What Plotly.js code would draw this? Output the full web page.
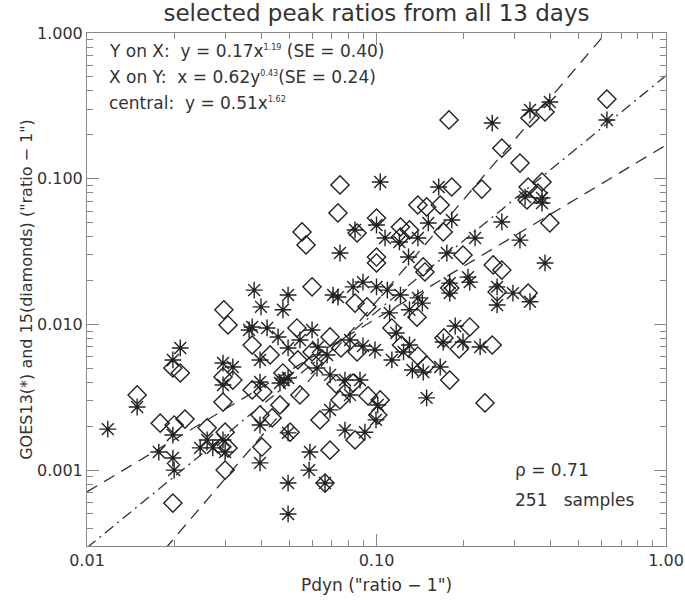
<!DOCTYPE html>
<html>
<head>
<meta charset="utf-8">
<script src="https://cdn.plot.ly/plotly-3.0.1.min.js"></script>
<style>html,body{margin:0;padding:0;background:#fff;}#chart{width:685px;height:600px;}</style>
</head>
<body>
<div id="chart"></div>
<script>
// GOES13 (asterisks): Pdyn ratio-1 vs GOES ratio-1
const goes13X = [0.0118,0.0149,0.0198,0.0210,0.0198,0.0177,0.0198,0.0200,0.0260,0.0246,0.0272,0.0300,0.0295,0.0396,0.0495,0.0495,0.0585,0.0664,0.0589,
  0.0378,0.0495,0.0399,0.0475,0.0363,0.0372,0.0419,0.0457,0.0495,0.0396,0.0295,0.0319,0.0295,0.0495,0.0464,0.0479,0.0396,0.0396,0.0495,
  0.103,0.164,0.100,0.151,0.182,0.0843,0.107,0.120,0.139,0.219,0.0748,0.129,0.175,0.0708,0.0736,0.0898,0.0830,0.100,0.109,0.121,0.111,0.130,0.139,0.144,0.179,0.210,0.179,0.170,0.199,0.261,
  0.625,0.397,0.339,0.251,0.271,0.326,0.373,0.373,0.313,0.382,0.207,
  0.0628,0.0675,0.0810,0.0898,0.0988,0.0623,0.0691,0.0778,0.0877,0.101,0.0996,0.0912,0.0778,0.113,0.124,0.133,0.145,0.130,0.117,0.149,0.166,0.296,0.339,0.261,0.0810,0.0691,0.0599,0.0544,0.228,0.187];
const goes13Y = [0.00191,0.00271,0.00570,0.00689,0.00174,0.00133,0.00121,0.00100,0.00161,0.00142,0.00142,0.00133,0.00161,0.00112,0.000815,0.000500,0.00100,0.000815,0.00133,
  0.0172,0.0159,0.0132,0.0126,0.00916,0.00960,0.00945,0.00820,0.00689,0.00570,0.00543,0.00510,0.00384,0.00429,0.00396,0.00415,0.00402,0.00204,0.00180,
  0.0949,0.0877,0.0481,0.0497,0.0521,0.0445,0.0392,0.0368,0.0392,0.0392,0.0309,0.0290,0.0309,0.0159,0.0154,0.0195,0.0181,0.0181,0.0172,0.0159,0.0120,0.0126,0.0152,0.0140,0.0192,0.0195,0.0164,0.00757,0.00757,0.0181,
  0.253,0.336,0.296,0.241,0.0505,0.0748,0.0737,0.0681,0.0379,0.0264,0.0211,
  0.00700,0.00617,0.00782,0.00711,0.00667,0.00502,0.00450,0.00415,0.00415,0.00280,0.00221,0.00182,0.00188,0.00570,0.00647,0.00486,0.00471,0.00722,0.00873,0.00313,0.00510,0.0164,0.0143,0.0136,0.00328,0.00259,0.00916,0.00782,0.00700,0.00975];

// GOES15 (diamonds)
const goes15X = [0.0149,0.0198,0.0210,0.0179,0.0200,0.0218,0.0198,0.0297,0.0307,0.0372,0.0531,0.0429,0.0295,0.0319,0.0295,0.0475,0.0372,0.0405,0.0464,0.0396,0.0436,0.0503,0.0402,0.0260,0.0300,0.0292,0.0307,0.0300,0.0664,0.0691,
  0.0748,0.182,0.231,0.0736,0.100,0.121,0.139,0.149,0.166,0.170,0.130,0.0857,0.0553,0.0571,0.121,0.253,0.100,0.100,0.145,0.147,0.199,0.0599,0.0927,0.0843,0.138,0.179,0.210,0.261,
  0.625,0.339,0.382,0.271,0.313,0.373,0.334,0.331,0.361,0.397,0.271,0.178,
  0.0691,0.0754,0.0857,0.0599,0.0604,0.0535,0.0725,0.0830,0.0935,0.103,0.101,0.0843,0.113,0.122,0.139,0.149,0.171,0.179,0.251,0.193,0.334,0.0748,0.0544,0.0638,0.237];
const goes15Y = [0.00328,0.00502,0.00464,0.00210,0.00204,0.00224,0.000594,0.0126,0.00991,0.00722,0.00945,0.00617,0.00436,0.00415,0.00293,0.00464,0.00355,0.00344,0.00280,0.00239,0.00228,0.00182,0.00144,0.00195,0.00182,0.00144,0.00142,0.00100,0.000815,0.00137,
  0.0906,0.0877,0.0849,0.0582,0.0537,0.0466,0.0660,0.0640,0.0660,0.0431,0.0445,0.0424,0.0431,0.0351,0.0398,0.0256,0.0290,0.0264,0.0248,0.0229,0.0299,0.0181,0.0132,0.0140,0.0112,0.0178,0.00960,0.0167,
  0.352,0.261,0.287,0.162,0.128,0.0949,0.0877,0.0714,0.0797,0.0497,0.0236,0.253,
  0.00820,0.00689,0.00647,0.00647,0.00543,0.00570,0.00390,0.00396,0.00323,0.00303,0.00239,0.00161,0.00945,0.00722,0.00607,0.00526,0.00807,0.00415,0.00722,0.00678,0.0164,0.00303,0.00328,0.00221,0.00289];

// Fit lines (coefficients as printed on the chart)
const fitNames = ['Y on X', 'X on Y', 'central'];
const fitCoef = [0.17, 0.62, 0.51];
const fitExp = [1.19, 0.43, 1.62];
const fitInverse = [false, true, false];
const fitDash = ['12px,8px', '12px,8px', '11px,5px,2px,5px'];
const lineX = [0.01, 1.0];

const xTickVals = [0.01, 0.1, 1];
const xTickText = ['0.01', '0.10', '1.00'];
const yTickVals = [0.001, 0.01, 0.1, 1];
const yTickText = ['0.001', '0.010', '0.100', '1.000'];

function minorVals(lo, hi) {
  const v = [];
  for (let d = lo; d < hi; d *= 10) for (let k = 2; k <= 9; k++) v.push(d * k);
  return v;
}

const ink = '#222';
const traces = [];
fitNames.forEach((n, i) => {
  const ys = lineX.map(x => fitInverse[i] ? Math.pow(x / fitCoef[i], 1 / fitExp[i]) : fitCoef[i] * Math.pow(x, fitExp[i]));
  traces.push({x: lineX, y: ys, mode: 'lines', name: n, hoverinfo: 'skip',
    line: {color: '#333', width: 1.3, dash: fitDash[i]}});
});
traces.push({x: goes13X, y: goes13Y, mode: 'markers', name: 'GOES13',
  marker: {symbol: 'asterisk-open', size: 14, color: ink, line: {color: ink, width: 1.4}}});
traces.push({x: goes15X, y: goes15Y, mode: 'markers', name: 'GOES15',
  marker: {symbol: 'diamond-open', size: 14, color: ink, line: {color: ink, width: 1.4}}});

const fontFam = 'DejaVu Sans, Liberation Sans, sans-serif';
const axCol = '#888';
const sp = '\u00a0';
const supS = s => '<sup><span style="font-size:8px">' + s + '</span></sup>';

const layout = {
  width: 685, height: 600,
  margin: {l: 87, r: 19, t: 33, b: 54},
  paper_bgcolor: '#fff', plot_bgcolor: '#fff',
  showlegend: false,
  font: {family: fontFam, color: '#333', size: 17},
  title: {text: 'selected peak ratios from all 13 days', x: 0.5, xref: 'paper', y: 0.978, yref: 'container', yanchor: 'middle',
    font: {size: 23, family: fontFam, color: '#333'}},
  xaxis: {type: 'log', range: [-2, 0], showgrid: false, zeroline: false, showline: true, linecolor: axCol, linewidth: 1,
    mirror: 'ticks', ticks: 'inside', ticklen: 12, tickcolor: axCol, tickwidth: 1,
    tickmode: 'array', tickvals: xTickVals, ticktext: xTickText, tickfont: {size: 16, color: '#333'},
    minor: {tickmode: 'array', tickvals: minorVals(0.01, 1), ticks: 'inside', ticklen: 6, tickcolor: axCol, tickwidth: 1},
    title: {text: 'Pdyn ("ratio ' + '\u2212' + ' 1")', standoff: 9, font: {size: 17, color: '#333'}}},
  yaxis: {type: 'log', range: [-3.521, 0], showgrid: false, zeroline: false, showline: true, linecolor: axCol, linewidth: 1,
    mirror: 'ticks', ticks: 'inside', ticklen: 12, tickcolor: axCol, tickwidth: 1,
    tickmode: 'array', tickvals: yTickVals, ticktext: yTickText, tickfont: {size: 16, color: '#333'},
    minor: {tickmode: 'array', tickvals: minorVals(0.0001, 1).filter(v => v > 0.0003), ticks: 'inside', ticklen: 6, tickcolor: axCol, tickwidth: 1},
    title: {text: 'GOES13(*) and 15(diamonds) ("ratio \u2212 1")', standoff: 0, font: {size: 16, color: '#333'}}},
  annotations: [
    {xref: 'paper', yref: 'paper', x: 0.0345, y: 0.965, xanchor: 'left', yanchor: 'middle', showarrow: false,
      text: 'Y on X:' + sp + sp + 'y = 0.17x' + supS('1.19') + ' (SE = 0.40)'},
    {xref: 'paper', yref: 'paper', x: 0.0345, y: 0.914, xanchor: 'left', yanchor: 'middle', showarrow: false,
      text: 'X on Y:' + sp + sp + 'x = 0.62y' + supS('0.43') + '(SE = 0.24)'},
    {xref: 'paper', yref: 'paper', x: 0.0345, y: 0.863, xanchor: 'left', yanchor: 'middle', showarrow: false,
      text: 'central:' + sp + sp + 'y = 0.51x' + supS('1.62')},
    {xref: 'paper', yref: 'paper', x: 0.736, y: 0.148, xanchor: 'left', yanchor: 'middle', showarrow: false,
      text: '\u03c1 = 0.71'},
    {xref: 'paper', yref: 'paper', x: 0.736, y: 0.09, xanchor: 'left', yanchor: 'middle', showarrow: false,
      text: '251' + sp + sp + sp + 'samples'}
  ]
};

Plotly.newPlot('chart', traces, layout, {displayModeBar: false, staticPlot: true});
</script>
</body>
</html>
